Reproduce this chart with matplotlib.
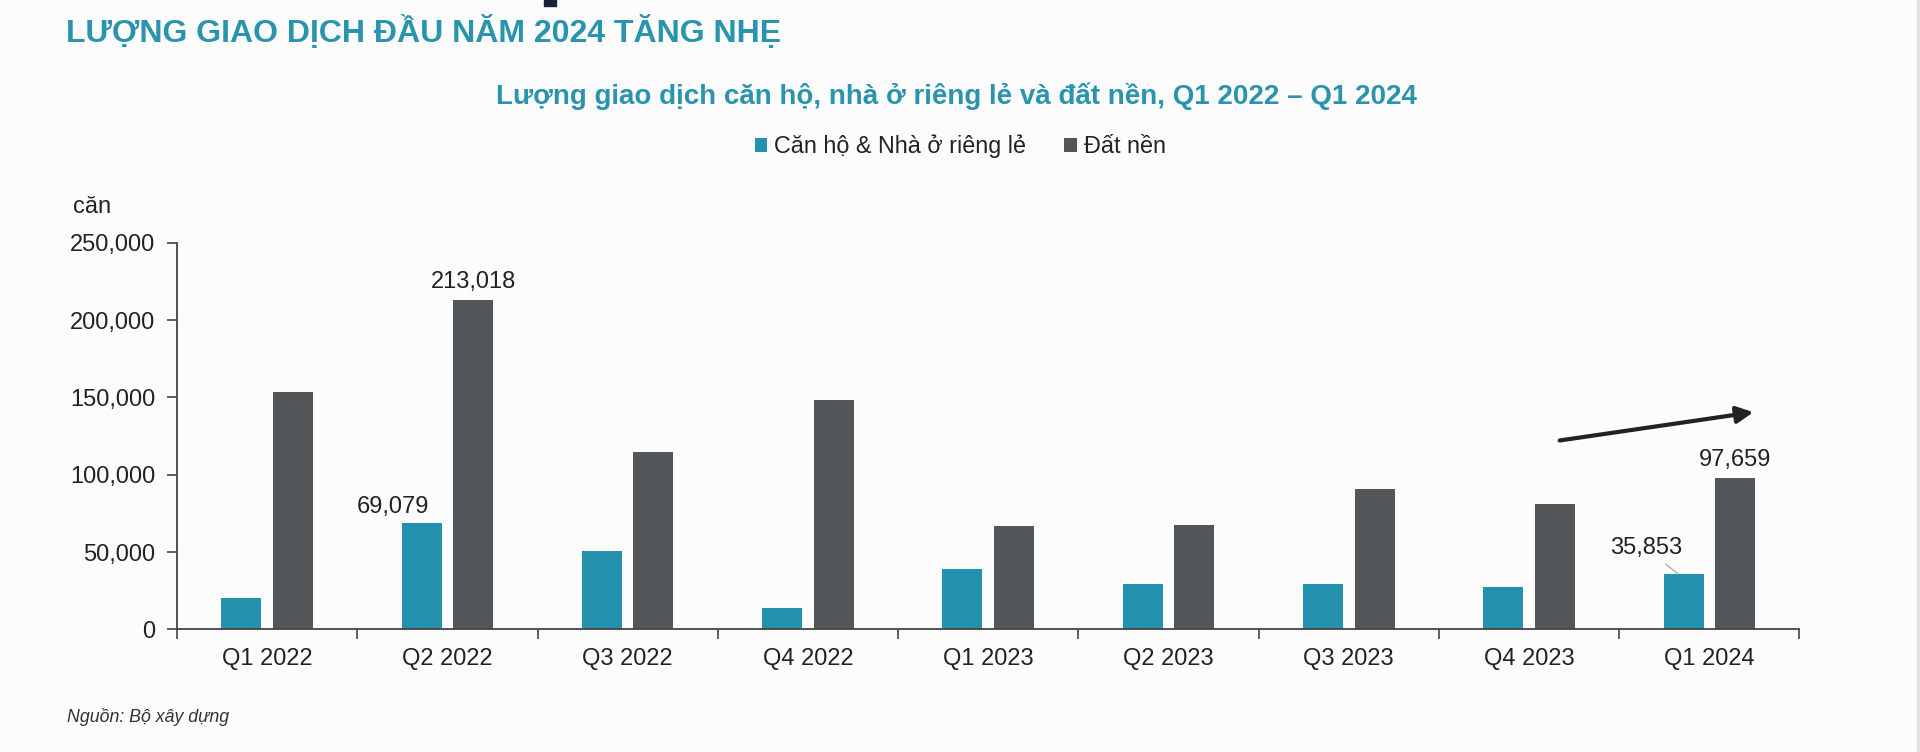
import numpy as np
import matplotlib
matplotlib.use('Agg')
import matplotlib.pyplot as plt
from matplotlib.patches import Rectangle

plt.rcParams['font.family'] = ['Liberation Sans', 'DejaVu Sans']

# Data
quarters = ['Q1 2022', 'Q2 2022', 'Q3 2022', 'Q4 2022', 'Q1 2023',
            'Q2 2023', 'Q3 2023', 'Q4 2023', 'Q1 2024']
can_ho = [20300, 69079, 50650, 13970, 38940, 29430, 29430, 27300, 35853]
dat_nen = [153300, 213018, 114680, 148500, 66950, 67400, 91070, 81180, 97659]
series_names = ['Căn hộ & Nhà ở riêng lẻ', 'Đất nền']
yticks = [0, 50000, 100000, 150000, 200000, 250000]

teal = '#2492ae'
dark = '#53575a'
title_col = '#2a93ad'
bg = '#fcfcfc'

fig = plt.figure(figsize=(19.2, 7.52), dpi=100, facecolor=bg)
ax = fig.add_axes([0.0922, 0.1629, 0.845, 0.5144], facecolor=bg)

x = np.arange(len(quarters))
w = 0.222
off = 0.143
b1 = ax.bar(x - off, can_ho, w, color=teal, label=series_names[0], zorder=2)
b2 = ax.bar(x + off, dat_nen, w, color=dark, label=series_names[1], zorder=2)

ax.set_xlim(-0.5, len(quarters) - 0.5)
ax.set_ylim(0, 250000)
ax.set_yticks(yticks)
ax.set_yticklabels([f'{v:,}' for v in yticks])

# ticks at category boundaries, labels at centres
ax.set_xticks(np.arange(-0.5, len(quarters)))
ax.set_xticklabels([])
ax.set_xticks(x, minor=True)
ax.set_xticklabels(quarters, minor=True)
ax.tick_params(axis='x', which='major', length=7, width=1.2, color='#444444', direction='out')
ax.tick_params(axis='x', which='minor', length=0, pad=13, labelsize=17, labelcolor='#222222')
ax.tick_params(axis='y', length=7, width=1.2, color='#444444', pad=8.5, labelsize=17,
               labelcolor='#222222')

for s in ['top', 'right']:
    ax.spines[s].set_visible(False)
for s in ['left', 'bottom']:
    ax.spines[s].set_color('#444444')
    ax.spines[s].set_linewidth(1.3)

# data labels
lbl = dict(textcoords='offset points', ha='center', va='bottom', fontsize=17, color='#222222')
ax.annotate(f'{dat_nen[1]:,}', (x[1] + off, dat_nen[1]), xytext=(0, 5), **lbl)
ax.annotate(f'{can_ho[1]:,}', (x[1] - off, can_ho[1]), xytext=(-21, 3), **lbl)
ax.annotate(f'{dat_nen[8]:,}', (x[8] + off, dat_nen[8]), xytext=(0, 5), **lbl)
ax.annotate(f'{can_ho[8]:,}', (x[8] - off - 0.03, can_ho[8]), xytext=(-23, 10.5),
            arrowprops=dict(arrowstyle='-', color='#b0b0b0', lw=1, shrinkA=2, shrinkB=0),
            **lbl)

# trend arrow
ax.annotate('', xy=(8.26, 140700), xytext=(7.155, 121900),
            arrowprops=dict(arrowstyle='-|>,head_length=1.0,head_width=0.5',
                            color='#222222', lw=3))

ax.text(-0.064, 1.092, 'căn', fontsize=17, color='#222222', ha='left', va='center',
        transform=ax.transAxes)

# titles and legend
fig.text(0.0344, 0.957, 'LƯỢNG GIAO DỊCH ĐẦU NĂM 2024 TĂNG NHẸ', fontsize=23,
         fontweight='bold', color=title_col, ha='left', va='center')
fig.text(0.498, 0.872, 'Lượng giao dịch căn hộ, nhà ở riêng lẻ và đất nền, Q1 2022 – Q1 2024',
         fontsize=20, fontweight='bold', color=title_col, ha='center', va='center')
fig.legend(handles=[b1, b2], loc='center', bbox_to_anchor=(0.5, 0.805), ncol=2,
           frameon=False, fontsize=16.8, handlelength=0.55, handleheight=0.55,
           handletextpad=0.3, columnspacing=1.6, labelcolor='#222222')

fig.text(0.035, 0.047, 'Nguồn: Bộ xây dựng', fontsize=12.8, style='italic',
         color='#333333', ha='left', va='center')

# small decorative bits from the cropped page
fig.patches.append(Rectangle((0.2833, 0.992), 0.0062, 0.008, transform=fig.transFigure,
                             color='#1b1f3b', zorder=5))
fig.patches.append(Rectangle((0.9985, 0.0), 0.0015, 1.0, transform=fig.transFigure,
                             color='#e3e3e3', zorder=5))

fig.savefig('out.png', dpi=100, facecolor=bg)
